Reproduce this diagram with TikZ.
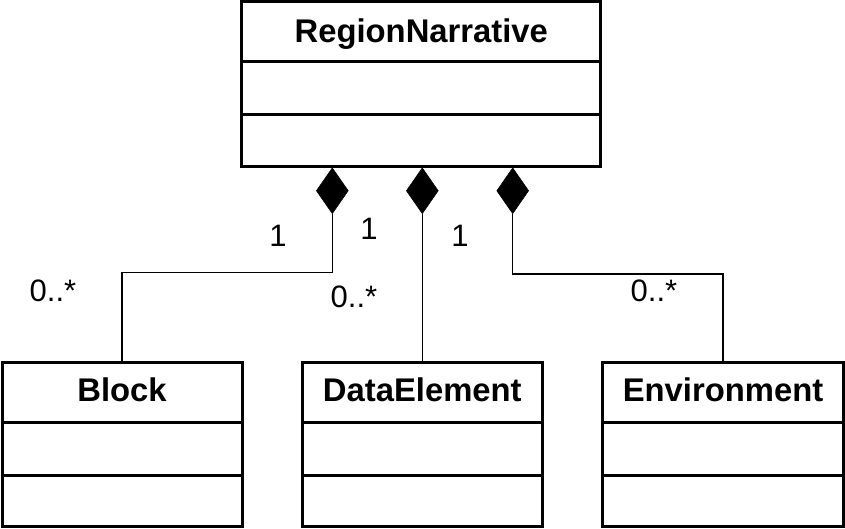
\documentclass[tikz,border=0pt]{standalone}
\usepackage{fontspec}
\setmainfont{Liberation Sans}
\usetikzlibrary{shapes.geometric}
\begin{document}
\begin{tikzpicture}[x=1pt,y=-1pt,
  classbox/.style={draw,line width=3pt,inner sep=0pt,fill=white},
  divider/.style={line width=3pt},
  title/.style={font=\fontsize{32.8}{38}\selectfont\bfseries,inner sep=0pt,anchor=base},
  mult/.style={font=\fontsize{31}{37}\selectfont,inner sep=0pt,anchor=base},
  comp/.style={diamond,fill=black,draw=black,line width=0.5pt,inner sep=0pt,
     minimum width=32pt,minimum height=46pt,anchor=north},
  link/.style={line width=1.5pt}]
\useasboundingbox (0,0) rectangle (845,529);
% RegionNarrative
\node[classbox,minimum width=359pt,minimum height=165pt] (rn) at (421.3,84.3) {};
\draw[divider] (rn.west |- 0,61.7) -- (rn.east |- 0,61.7);
\draw[divider] (rn.west |- 0,115) -- (rn.east |- 0,115);
\node[title] (rnt) at (421.3,43) {RegionNarrative};
% Block
\node[classbox,minimum width=240pt,minimum height=164.5pt] (bl) at (122,444.5) {};
\draw[divider] (bl.west |- 0,422.7) -- (bl.east |- 0,422.7);
\draw[divider] (bl.west |- 0,475) -- (bl.east |- 0,475);
\node[title] (blt) at (122,401.5) {Block};
% DataElement
\node[classbox,minimum width=240pt,minimum height=164.5pt] (de) at (422.3,444.5) {};
\draw[divider] (de.west |- 0,422.7) -- (de.east |- 0,422.7);
\draw[divider] (de.west |- 0,475) -- (de.east |- 0,475);
\node[title] (det) at (422.3,401.5) {DataElement};
% Environment
\node[classbox,minimum width=240.6pt,minimum height=164.5pt] (en) at (723,444.5) {};
\draw[divider] (en.west |- 0,422.7) -- (en.east |- 0,422.7);
\draw[divider] (en.west |- 0,475) -- (en.east |- 0,475);
\node[title] (ent) at (723,401.5) {Environment};
% diamonds
\node[comp] (d1) at (332.3,167.5) {};
\node[comp] (d2) at (422.3,167.5) {};
\node[comp] (d3) at (512.7,167.5) {};
% connectors
\coordinate (k1) at (332.3,272.5);
\coordinate (k3) at (512.7,274);
\draw[link] (d1.south) -- (k1) -| (bl.north);
\draw[link] (d2.south) -- (de.north);
\draw[link] (d3.south) -- (k3) -| (en.north);
% multiplicities
\node[mult] (m1a) at (278,246.5) {1};
\node[mult] (m2a) at (369,240) {1};
\node[mult] (m3a) at (460,246.5) {1};
\node[mult] (m1b) at (53,301.5) {0..*};
\node[mult] (m2b) at (354,307) {0..*};
\node[mult] (m3b) at (654,301.5) {0..*};
\end{tikzpicture}
\end{document}
